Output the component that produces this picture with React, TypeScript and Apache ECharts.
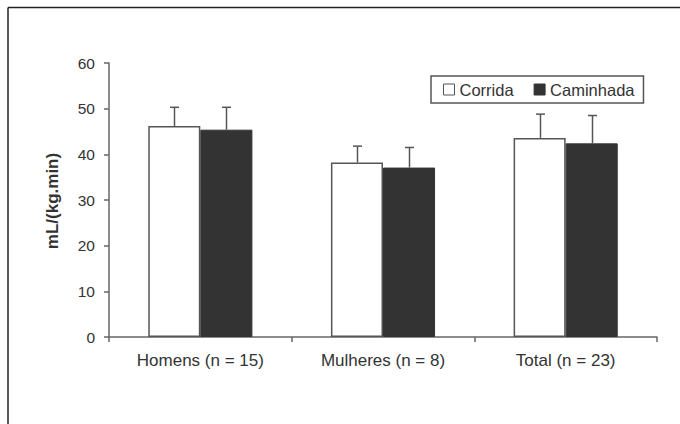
import React, { useEffect, useRef } from "react";
import * as echarts from "echarts";

const categories = ["Homens (n = 15)", "Mulheres (n = 8)", "Total (n = 23)"];
const corrida = [46.2, 38.2, 43.6];
const corridaSD = [4.1, 3.6, 5.2];
const caminhada = [45.4, 37.1, 42.4];
const caminhadaSD = [4.9, 4.4, 6.1];
const yTitle = "mL/(kg.min)";

const FONT = "'Liberation Sans', Arial, sans-serif";
const BAR_FRAC = 0.285;

function errSeries(name: string, vals: number[], sds: number[], offset: number) {
  return {
    name,
    type: "custom",
    z: 5,
    encode: { x: 0, y: [1, 2] },
    data: vals.map((v, i) => [i, v, v + sds[i]]),
    renderItem: (params: any, api: any) => {
      const idx = api.value(0);
      const v = api.value(1);
      const hi = api.value(2);
      const base = api.coord([idx, v]);
      const top = api.coord([idx, hi]);
      const band = api.size([1, 0])[0];
      const x = Math.round(base[0] + offset * band) + 0.5;
      const st = { stroke: "#555", lineWidth: 1.5 };
      return {
        type: "group",
        children: [
          { type: "line", shape: { x1: x, y1: base[1], x2: x, y2: top[1] }, style: st },
          { type: "line", shape: { x1: x - 4.5, y1: top[1], x2: x + 4.5, y2: top[1] }, style: st },
        ],
      };
    },
  };
}

export default function App() {
  const ref = useRef<HTMLDivElement>(null);
  useEffect(() => {
    if (!ref.current) return;
    const chart = echarts.init(ref.current, undefined, { renderer: "svg" });
    chart.setOption({
      animation: false,
      backgroundColor: "#fff",
      textStyle: { fontFamily: FONT },
      grid: { left: 109, right: 23, top: 63, bottom: 87, containLabel: false },
      legend: {
        left: 431,
        top: 76,
        orient: "horizontal",
        padding: [5, 9, 5, 12],
        itemGap: 20,
        itemWidth: 11,
        itemHeight: 11,
        borderColor: "#555",
        borderWidth: 1.5,
        borderRadius: 0,
        icon: "rect",
        textStyle: { fontSize: 16.5, color: "#333", fontFamily: FONT },
        data: [
          { name: "Corrida", itemStyle: { color: "#fff", borderColor: "#555", borderWidth: 1 } },
          { name: "Caminhada", itemStyle: { color: "#333", borderColor: "#333", borderWidth: 1 } },
        ],
      },
      xAxis: {
        type: "category",
        data: categories,
        boundaryGap: true,
        axisLine: { lineStyle: { color: "#666", width: 1.5 } },
        axisTick: { show: true, alignWithLabel: false, length: 5, lineStyle: { color: "#666", width: 1.5 } },
        axisLabel: { margin: 15, fontSize: 17, color: "#333", fontFamily: FONT },
        splitLine: { show: false },
      },
      yAxis: {
        type: "value",
        min: 0,
        max: 60,
        interval: 10,
        axisLine: { show: true, lineStyle: { color: "#666", width: 1.5 } },
        axisTick: { show: true, inside: false, length: 5, lineStyle: { color: "#666", width: 1.5 } },
        axisLabel: { margin: 14, fontSize: 15.5, color: "#333", fontFamily: FONT },
        splitLine: { show: false },
      },
      graphic: [
        {
          type: "text",
          x: 52,
          y: 201,
          rotation: Math.PI / 2,
          style: {
            text: yTitle,
            fontSize: 17,
            fontWeight: "bold",
            fill: "#333",
            fontFamily: FONT,
            align: "center",
            verticalAlign: "middle",
          },
        },
        { type: "line", shape: { x1: 8, y1: 7.5, x2: 680, y2: 7.5 }, style: { stroke: "#222", lineWidth: 1.5 } },
        { type: "line", shape: { x1: 8, y1: 7.5, x2: 8, y2: 424 }, style: { stroke: "#222", lineWidth: 1.5 } },
      ],
      series: [
        {
          name: "Corrida",
          type: "bar",
          data: corrida,
          barWidth: BAR_FRAC * 100 + "%",
          barGap: "0%",
          itemStyle: { color: "#fff", borderColor: "#555", borderWidth: 1.5 },
        },
        {
          name: "Caminhada",
          type: "bar",
          data: caminhada,
          barWidth: BAR_FRAC * 100 + "%",
          barGap: "0%",
          itemStyle: { color: "#333", borderColor: "#333", borderWidth: 1 },
        },
        errSeries("errCorrida", corrida, corridaSD, -BAR_FRAC / 2),
        errSeries("errCaminhada", caminhada, caminhadaSD, BAR_FRAC / 2),
      ],
    });
    return () => chart.dispose();
  }, []);
  return (
    <div
      ref={ref}
      style={{ position: "absolute", left: 0, top: 0, width: 680, height: 424, background: "#fff" }}
    />
  );
}
